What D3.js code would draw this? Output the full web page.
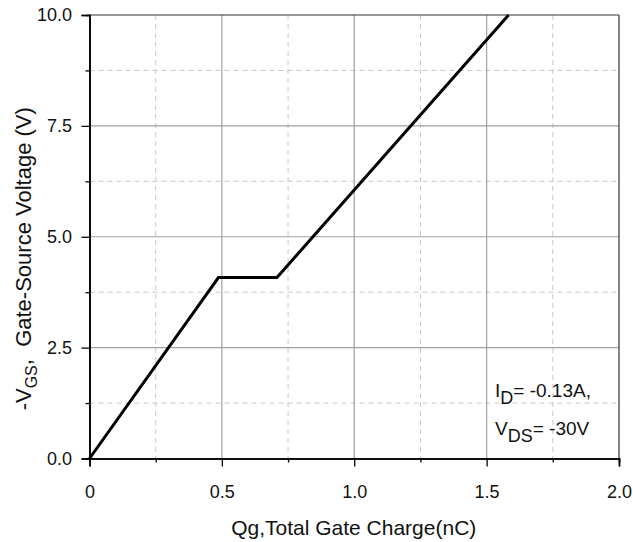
<!DOCTYPE html>
<html>
<head>
<meta charset="utf-8">
<script src="https://cdn.jsdelivr.net/npm/d3@7"></script>
<style>
  html, body { margin: 0; padding: 0; background: #fff; }
  svg { display: block; font-family: "Liberation Sans", Arial, sans-serif; }
</style>
</head>
<body>
<svg id="chart" width="633" height="542"></svg>
<script>
// Gate charge curve: total gate charge (nC) vs. gate-source voltage (V)
const chargeNC    = [0, 0.487, 0.708, 1.583];
const gateVoltage = [0, 4.08, 4.08, 10.0];

const xMajorTicks  = [0, 0.5, 1.0, 1.5, 2.0];
const xTickLabels  = ["0", "0.5", "1.0", "1.5", "2.0"];
const xMinorTicks  = [0.25, 0.75, 1.25, 1.75];
const yMajorTicks  = [0, 2.5, 5.0, 7.5, 10.0];
const yTickLabels  = ["0.0", "2.5", "5.0", "7.5", "10.0"];
const yMinorTicks  = [1.25, 3.75, 6.25, 8.75];

const svg = d3.select("#chart");
const plot = { left: 89.5, right: 619, top: 15, bottom: 458.5 };

const x = d3.scaleLinear().domain([0, 2]).range([plot.left, plot.right]);
const y = d3.scaleLinear().domain([0, 10]).range([plot.bottom, plot.top]);

// minor dashed grid
const grid = svg.append("g");
grid.selectAll(".vminor").data(xMinorTicks).join("line")
  .attr("x1", d => x(d)).attr("x2", d => x(d))
  .attr("y1", plot.top).attr("y2", plot.bottom)
  .attr("stroke", "#c8c8c8").attr("stroke-width", 1).attr("stroke-dasharray", "5,4");
grid.selectAll(".hminor").data(yMinorTicks).join("line")
  .attr("x1", plot.left).attr("x2", plot.right)
  .attr("y1", d => y(d)).attr("y2", d => y(d))
  .attr("stroke", "#c8c8c8").attr("stroke-width", 1).attr("stroke-dasharray", "5,4");

// major solid grid
grid.selectAll(".vmajor").data(xMajorTicks.slice(1, -1)).join("line")
  .attr("x1", d => x(d)).attr("x2", d => x(d))
  .attr("y1", plot.top).attr("y2", plot.bottom)
  .attr("stroke", "#a0a0a0").attr("stroke-width", 1.2);
grid.selectAll(".hmajor").data(yMajorTicks.slice(1, -1)).join("line")
  .attr("x1", plot.left).attr("x2", plot.right)
  .attr("y1", d => y(d)).attr("y2", d => y(d))
  .attr("stroke", "#a0a0a0").attr("stroke-width", 1.2);

// frame: top and right
svg.append("line").attr("x1", plot.left).attr("x2", plot.right)
  .attr("y1", plot.top).attr("y2", plot.top).attr("stroke", "#333").attr("stroke-width", 1.2);
svg.append("line").attr("x1", plot.right).attr("x2", plot.right)
  .attr("y1", plot.top).attr("y2", plot.bottom).attr("stroke", "#333").attr("stroke-width", 1.2);

// axes
const tickFont = 18;
const xAxis = svg.append("g").attr("transform", `translate(0,${plot.bottom})`)
  .call(d3.axisBottom(x).tickValues(xMajorTicks).tickFormat((d, i) => xTickLabels[i])
    .tickSize(8).tickPadding(18.5));
const xMinorAxis = svg.append("g").attr("transform", `translate(0,${plot.bottom})`)
  .call(d3.axisBottom(x).tickValues(xMinorTicks).tickFormat("").tickSize(4));
const yAxis = svg.append("g").attr("transform", `translate(${plot.left},0)`)
  .call(d3.axisLeft(y).tickValues(yMajorTicks).tickFormat((d, i) => yTickLabels[i])
    .tickSize(8).tickPadding(9.5));
const yMinorAxis = svg.append("g").attr("transform", `translate(${plot.left},0)`)
  .call(d3.axisLeft(y).tickValues(yMinorTicks).tickFormat("").tickSize(4));

[xAxis, xMinorAxis, yAxis, yMinorAxis].forEach(g => {
  g.select(".domain").attr("stroke", "#000").attr("stroke-width", 1.6);
  g.selectAll(".tick line").attr("stroke", "#000").attr("stroke-width", 1.3);
  g.selectAll("text").attr("font-size", tickFont)
    .attr("font-family", "'Liberation Sans', Arial, sans-serif").attr("fill", "#111");
});

// curve
const line = d3.line().x((d, i) => x(chargeNC[i])).y(d => y(d));
svg.append("path").datum(gateVoltage)
  .attr("d", line).attr("fill", "none")
  .attr("stroke", "#000").attr("stroke-width", 3).attr("stroke-linejoin", "miter");

// axis titles
svg.append("text")
  .attr("x", (plot.left + plot.right) / 2 - 0.5).attr("y", 535)
  .attr("text-anchor", "middle").attr("font-size", 21).attr("fill", "#111")
  .text("Qg,Total Gate Charge(nC)");

const yTitle = svg.append("text")
  .attr("transform", `translate(31,${(plot.top + plot.bottom) / 2 + 22}) rotate(-90)`)
  .attr("text-anchor", "middle").attr("font-size", 22).attr("fill", "#111")
  .style("white-space", "pre");
yTitle.append("tspan").text("-V");
yTitle.append("tspan").attr("font-size", 16).attr("dy", 6).text("GS");
yTitle.append("tspan").attr("dy", -6).text(",  Gate-Source Voltage (V)");

// test conditions
const cond = svg.append("g").attr("fill", "#111").attr("font-size", 19);
const t1 = cond.append("text").attr("x", 495).attr("y", 396.5);
t1.append("tspan").text("I");
t1.append("tspan").attr("font-size", 18).attr("dy", 7).text("D");
t1.append("tspan").attr("dy", -7).text("= -0.13A,");
const t2 = cond.append("text").attr("x", 495).attr("y", 435);
t2.append("tspan").text("V");
t2.append("tspan").attr("font-size", 18).attr("dy", 7).text("DS");
t2.append("tspan").attr("dy", -7).text("= -30V");
</script>
</body>
</html>
